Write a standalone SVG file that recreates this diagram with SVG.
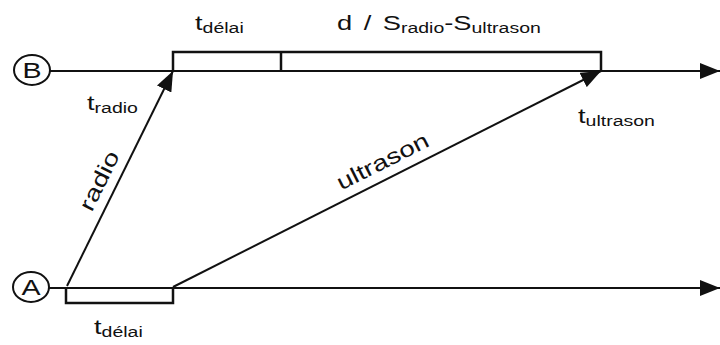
<svg xmlns="http://www.w3.org/2000/svg" width="720" height="345" viewBox="0 0 720 345">
<defs>
<marker id="ah" markerWidth="20" markerHeight="16" refX="20" refY="8" orient="auto" markerUnits="userSpaceOnUse">
<path d="M0,0 L20,8 L0,16 Z" fill="#111"/>
</marker>
<style>
.ln{stroke:#111;stroke-width:2;fill:none}
.bx{stroke:#111;stroke-width:2.5;fill:none}
.t{font-family:"Liberation Sans",Arial,sans-serif;font-size:21px;fill:#111}
.s{font-size:15px}
</style>
</defs>
<rect width="720" height="345" fill="#fff"/>
<g id="nodeB">
<ellipse cx="32" cy="70" rx="18" ry="15" class="ln"/>
<text transform="translate(32,78) scale(1.3,1)" class="t" text-anchor="middle" style="font-size:22px">B</text>
</g>
<g id="nodeA">
<ellipse cx="31" cy="287" rx="18" ry="15" class="ln"/>
<text transform="translate(31,295) scale(1.3,1)" class="t" text-anchor="middle" style="font-size:22px">A</text>
</g>
<g id="boxes">
<path d="M173,71 V52 H601 V71" class="bx"/>
<line x1="281" y1="52" x2="281" y2="71" class="bx"/>
<path d="M66,288 V303 H173 V288" class="bx"/>
</g>
<g id="connectors">
<line x1="50" y1="71" x2="720" y2="71" class="ln" marker-end="url(#ah)"/>
<line x1="49" y1="288" x2="720" y2="288" class="ln" marker-end="url(#ah)"/>
<line x1="67" y1="286" x2="173" y2="71" class="ln" marker-end="url(#ah)"/>
<line x1="173" y1="287" x2="601" y2="71" class="ln" marker-end="url(#ah)"/>
</g>
<g id="labels">
<text transform="translate(195,30) scale(1.3,1)" class="t">t<tspan class="s" dy="3">délai</tspan></text>
<text transform="translate(337,30) scale(1.3,1)" class="t" word-spacing="3">d / S<tspan class="s" dy="3">radio</tspan><tspan dy="-3">-S</tspan><tspan class="s" dy="3">ultrason</tspan></text>
<text transform="translate(87,110) scale(1.3,1)" class="t">t<tspan class="s" dy="3">radio</tspan></text>
<text transform="translate(578,123) scale(1.3,1)" class="t">t<tspan class="s" dy="3">ultrason</tspan></text>
<text transform="translate(94,334) scale(1.3,1)" class="t">t<tspan class="s" dy="3">délai</tspan></text>
<text transform="translate(106,184) rotate(-63.65)" class="t" text-anchor="middle" style="font-size:22px" textLength="64" lengthAdjust="spacingAndGlyphs">radio</text>
<text transform="translate(386,168) rotate(-26.78)" class="t" text-anchor="middle" style="font-size:22px" textLength="100" lengthAdjust="spacingAndGlyphs">ultrason</text>
</g>
</svg>
